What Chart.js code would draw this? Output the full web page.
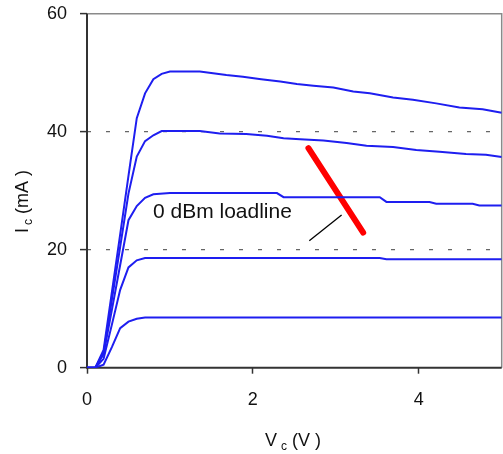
<!DOCTYPE html>
<html>
<head>
<meta charset="utf-8">
<script src="https://cdn.jsdelivr.net/npm/chart.js@4.4.1/dist/chart.umd.min.js"></script>
<style>
html,body{margin:0;padding:0;background:#fff;}
#wrap{width:503px;height:454px;position:relative;}
</style>
</head>
<body>
<div id="wrap"><canvas id="c" width="503" height="454"></canvas></div>
<script>
// Collector voltage (V) and collector current (mA) for each base-drive curve
const vc1 = [0, 0.1, 0.2, 0.3, 0.4, 0.5, 0.6, 0.7, 0.8, 0.9, 1.0, 1.36, 1.52, 1.68, 1.88, 2.1, 2.33, 2.53, 2.73, 2.97, 3.21, 3.41, 3.69, 3.93, 4.21, 4.49, 4.77, 5.0];
const ic1 = [0, 0, 3, 12.8, 22.6, 32.5, 42.3, 46.5, 48.9, 49.8, 50.2, 50.2, 49.9, 49.6, 49.3, 48.9, 48.5, 48.1, 47.8, 47.5, 46.8, 46.5, 45.8, 45.4, 44.8, 44.1, 43.8, 43.2];
const vc2 = [0, 0.1, 0.2, 0.3, 0.4, 0.5, 0.6, 0.7, 0.8, 0.9, 1.36, 1.6, 1.92, 2.17, 2.37, 2.57, 2.85, 3.13, 3.37, 3.69, 3.97, 4.25, 4.57, 4.81, 5.0];
const ic2 = [0, 0, 2.5, 11.5, 20.5, 29.5, 35.8, 38.4, 39.4, 40.1, 40.1, 39.7, 39.6, 39.3, 38.9, 38.7, 38.5, 38.1, 37.6, 37.4, 36.9, 36.6, 36.2, 36.1, 35.7];
const vc3 = [0, 0.1, 0.2, 0.3, 0.4, 0.5, 0.6, 0.7, 0.8, 1.0, 2.29, 2.37, 3.53, 3.61, 4.13, 4.21, 4.65, 4.73, 5.0];
const ic3 = [0, 0, 2.3, 9.8, 17.4, 25, 27.4, 28.8, 29.4, 29.6, 29.6, 28.9, 28.9, 28.1, 28.1, 27.8, 27.8, 27.5, 27.5];
const vc4 = [0, 0.1, 0.2, 0.3, 0.4, 0.5, 0.6, 0.7, 3.53, 3.61, 5.0];
const ic4 = [0, 0, 1.5, 7.3, 13.2, 17.0, 18.2, 18.6, 18.6, 18.4, 18.4];
const vc5 = [0, 0.1, 0.2, 0.3, 0.4, 0.5, 0.6, 0.7, 5.0];
const ic5 = [0, 0, 0.5, 3.5, 6.7, 7.8, 8.3, 8.5, 8.5];
// 0 dBm load line and its label leader
const loadV = [2.67, 3.33];
const loadI = [37.2, 22.9];
const leaderV = [2.68, 3.07];
const leaderI = [21.5, 25.9];
const labelText = '0 dBm loadline';
const labelV = 0.795, labelI = 26.3;
// Axes
const xTicks = [0, 2, 4];
const yTicks = [0, 20, 40, 60];
const gridValues = [20, 40];
const xMin = 0, xMax = 5, yMin = 0, yMax = 60;

const pts = (xs, ys) => xs.map((x, i) => ({x: x, y: ys[i]}));
const curveStyle = {borderColor: '#1e1ef0', borderWidth: 2, pointRadius: 0, tension: 0, fill: false};

const datasets = [
  Object.assign({data: pts(vc1, ic1)}, curveStyle),
  Object.assign({data: pts(vc2, ic2)}, curveStyle),
  Object.assign({data: pts(vc3, ic3)}, curveStyle),
  Object.assign({data: pts(vc4, ic4)}, curveStyle),
  Object.assign({data: pts(vc5, ic5)}, curveStyle),
  {data: pts(leaderV, leaderI), borderColor: '#000', borderWidth: 1.3, pointRadius: 0, tension: 0},
  {data: pts(loadV, loadI), borderColor: '#ff0000', borderWidth: 6, borderCapStyle: 'round', pointRadius: 0, tension: 0}
];

const extras = {
  id: 'extras',
  beforeDatasetsDraw(chart) {
    const ctx = chart.ctx, a = chart.chartArea;
    ctx.save();
    ctx.setLineDash([]);
    ctx.strokeStyle = '#8a8a8a';
    ctx.lineWidth = 1.5;
    ctx.beginPath();
    ctx.moveTo(a.left, a.top);
    ctx.lineTo(a.right, a.top);
    ctx.lineTo(a.right, a.bottom);
    ctx.stroke();
    // solid axis lines
    ctx.strokeStyle = '#333';
    ctx.lineWidth = 2;
    ctx.beginPath();
    ctx.moveTo(a.left, a.top);
    ctx.lineTo(a.left, a.bottom);
    ctx.lineTo(a.right, a.bottom);
    ctx.stroke();
    ctx.restore();
  },
  afterDraw(chart) {
    const ctx = chart.ctx, a = chart.chartArea;
    const xs = chart.scales.x, ys = chart.scales.y;
    ctx.save();
    ctx.fillStyle = '#111';
    // annotation label
    ctx.font = '21px "Liberation Sans", Arial, sans-serif';
    ctx.textAlign = 'left';
    ctx.textBaseline = 'middle';
    ctx.fillText(labelText, xs.getPixelForValue(labelV), ys.getPixelForValue(labelI));
    // x title: V_c (V)
    ctx.textBaseline = 'alphabetic';
    const main = '18px "Liberation Sans", Arial, sans-serif';
    const sub = '12px "Liberation Sans", Arial, sans-serif';
    let x = 265, y = 446;
    ctx.font = main; ctx.fillText('V', x, y); x += ctx.measureText('V').width + 4;
    ctx.font = sub; ctx.fillText('c', x, y + 4); x += ctx.measureText('c').width;
    ctx.font = main; ctx.fillText(' (V )', x, y);
    // y title: I_c (mA)
    ctx.translate(28, 233);
    ctx.rotate(-Math.PI / 2);
    x = 0; y = 0;
    ctx.font = main; ctx.fillText('I', x, y); x += ctx.measureText('I').width + 3;
    ctx.font = sub; ctx.fillText('c', x, y + 4); x += ctx.measureText('c').width;
    ctx.font = main; ctx.fillText(' (mA )', x, y);
    ctx.restore();
  }
};

new Chart(document.getElementById('c'), {
  type: 'line',
  data: {datasets: datasets},
  plugins: [extras],
  options: {
    responsive: false,
    animation: false,
    layout: {padding: {left: 0, right: 1.3, top: 13.7, bottom: 0}},
    plugins: {legend: {display: false}, tooltip: {enabled: false}},
    scales: {
      x: {
        type: 'linear', min: xMin, max: xMax,
        afterBuildTicks: s => { s.ticks = xTicks.map(v => ({value: v})); },
        afterFit: s => { s.height = 86.3; s.paddingLeft = 0; s.paddingRight = 0; },
        border: {display: false},
        grid: {drawOnChartArea: false, drawTicks: true, tickLength: 6, tickColor: '#333', tickWidth: 1.5},
        ticks: {color: '#111', padding: 16, font: {family: '"Liberation Sans", Arial, sans-serif', size: 18}, maxRotation: 0}
      },
      y: {
        type: 'linear', min: yMin, max: yMax,
        afterBuildTicks: s => { s.ticks = yTicks.map(v => ({value: v})); },
        afterFit: s => { s.width = 87; s.paddingTop = 0; s.paddingBottom = 0; },
        border: {display: false, dash: [4, 15]},
        grid: {
          drawOnChartArea: true, drawTicks: true, tickLength: 7,
          color: c => gridValues.includes(c.tick && c.tick.value) ? '#666' : 'rgba(0,0,0,0)',
          lineWidth: 1.2,
          tickColor: '#333', tickWidth: 1.5, tickBorderDash: []
        },
        ticks: {color: '#111', padding: 13, font: {family: '"Liberation Sans", Arial, sans-serif', size: 18}}
      }
    }
  }
});
</script>
</body>
</html>
